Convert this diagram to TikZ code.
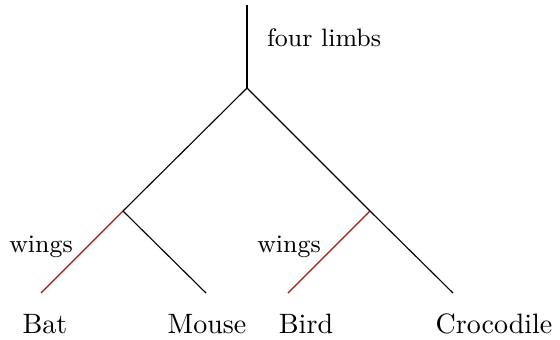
\documentclass[tikz,border=0pt]{standalone}
\begin{document}
\begin{tikzpicture}[x=0.3571pt, y=-0.3571pt,
  branch/.style={draw=black, line width=0.4pt},
  trait/.style={draw=traitred, line width=0.4pt},
  leaf/.style={anchor=base, inner sep=0pt, font=\normalsize},
  note/.style={anchor=base, inner sep=0pt, font=\small}]
\definecolor{traitred}{rgb}{0.62,0.10,0.08}
\useasboundingbox (0,0) rectangle (560,339);
% tree junctions and tips
\coordinate (top) at (247,5);
\coordinate (root) at (247,88);
\coordinate (lft) at (123,211);
\coordinate (rgt) at (370,211);
\coordinate (bat) at (41,293);
\coordinate (mouse) at (206,293);
\coordinate (bird) at (288,293);
\coordinate (croc) at (453,293);
% branches
\draw[branch] (top) -- (root);
\draw[branch] (root) -- (lft);
\draw[branch] (root) -- (rgt);
\draw[trait] (lft) -- (bat);
\draw[branch] (lft) -- (mouse);
\draw[trait] (rgt) -- (bird);
\draw[branch] (rgt) -- (croc);
% taxon names
\node[leaf] (tBat) at (45,333) {Bat};
\node[leaf] (tMouse) at (207,333) {Mouse};
\node[leaf] (tBird) at (306,333) {Bird};
\node[leaf] (tCroc) at (494,333) {Crocodile};
% character labels
\node[note] (limbs) at (324,46) {four limbs};
\node[note] (wingsL) at (41,252.5) {wings};
\node[note] (wingsR) at (289,252.5) {wings};
\end{tikzpicture}
\end{document}
